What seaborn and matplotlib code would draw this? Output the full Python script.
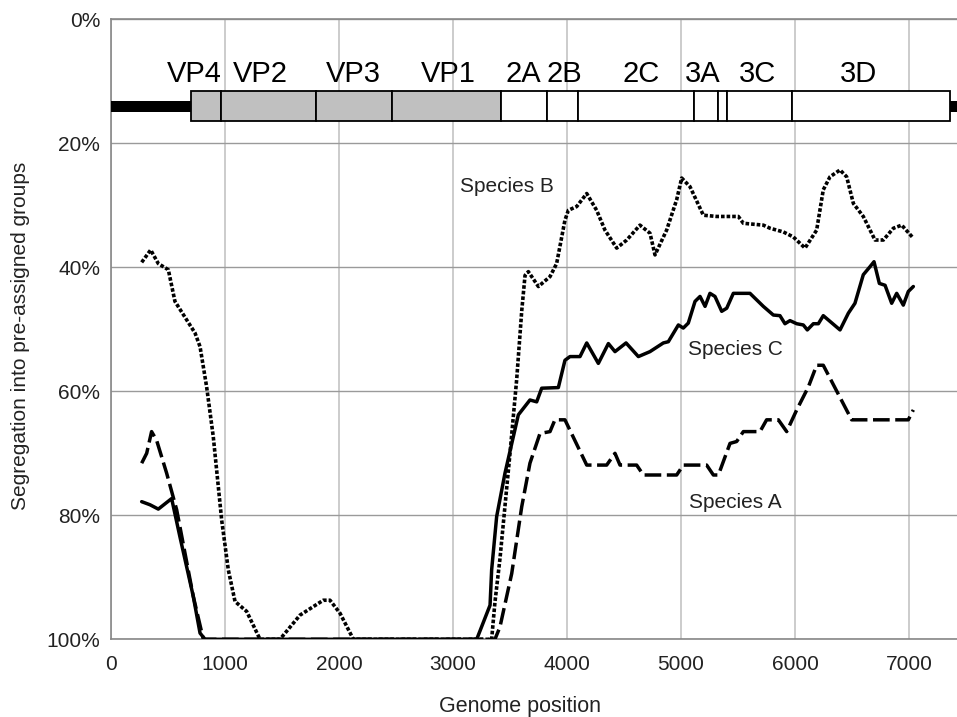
import matplotlib
matplotlib.use("Agg")
import matplotlib.pyplot as plt
from matplotlib import font_manager as fm
from matplotlib.ticker import MultipleLocator, FuncFormatter
import seaborn as sns
import pandas as pd
import numpy as np

# ---------------- data ----------------
B_pos = [269, 348, 415, 503, 561, 737, 781, 839, 897, 971, 1029, 1088, 1190, 1307, 1482,
         1658, 1862, 1921, 2009, 2126, 3339, 3368, 3412, 3500, 3559, 3603, 3632, 3661, 3749,
         3851, 3909, 3982, 4012, 4085, 4173, 4260, 4333, 4436, 4524, 4640, 4728, 4772, 4874,
         4962, 5006, 5079, 5196, 5313, 5503, 5547, 5722, 5781, 5898, 5985, 6088, 6190, 6248,
         6307, 6395, 6453, 6512, 6599, 6702, 6775, 6863, 6936, 7038]
B_val = [39.2, 37.2, 39.4, 40.4, 45.5, 50.6, 52.8, 59.3, 67.3, 80.8, 88.8, 93.9, 95.5, 100, 100,
         96.1, 93.7, 93.7, 95.8, 100, 100, 94.0, 87.0, 70.0, 58.0, 47.0, 41.3, 40.7, 43.1,
         41.5, 39.4, 32.4, 30.8, 30.2, 28.1, 30.8, 34.0, 36.9, 35.6, 33.2, 34.5, 38.0, 34.0,
         29.1, 25.6, 27.0, 31.6, 31.8, 31.8, 32.9, 33.2, 33.7, 34.3, 35.1, 36.9, 34.0, 27.5,
         25.4, 24.3, 25.4, 29.7, 31.8, 35.6, 35.6, 33.7, 33.2, 35.3]

C_pos = [269, 342, 415, 532, 605, 722, 781, 825, 3208, 3325, 3339, 3383, 3456, 3573, 3675,
         3734, 3778, 3924, 3982, 4026, 4114, 4173, 4275, 4363, 4421, 4518, 4626, 4728, 4845,
         4889, 4977, 5020, 5064, 5123, 5167, 5211, 5254, 5298, 5357, 5401, 5459, 5605, 5722,
         5810, 5868, 5912, 5956, 6015, 6073, 6108, 6161, 6205, 6248, 6395, 6468, 6526, 6599,
         6658, 6693, 6740, 6790, 6848, 6892, 6950, 6994, 7038]
C_val = [77.8, 78.3, 79.0, 77.3, 83.5, 93.1, 99.0, 100, 100, 94.5, 88.8, 80.2, 73.2, 63.8, 61.4,
         61.7, 59.5, 59.4, 55.0, 54.4, 54.4, 52.2, 55.5, 52.3, 53.6, 52.2, 54.4, 53.6, 52.2,
         52.0, 49.3, 49.8, 49.0, 45.5, 44.7, 46.3, 44.2, 44.7, 47.1, 46.6, 44.2, 44.2, 46.3,
         47.7, 47.8, 49.1, 48.6, 49.1, 49.3, 50.1, 49.1, 49.1, 47.8, 50.1, 47.4, 45.8, 41.2,
         39.9, 39.1, 42.6, 42.9, 45.8, 44.2, 46.1, 43.9, 43.1]

A_pos = [269, 313, 356, 400, 488, 576, 649, 722, 810, 3368, 3412, 3515, 3603, 3675, 3763,
         3851, 3894, 3982, 4173, 4348, 4421, 4465, 4611, 4670, 4962, 5020, 5225, 5284, 5328,
         5430, 5488, 5547, 5693, 5751, 5854, 5927, 6015, 6117, 6190, 6248, 6497, 6994, 7038]
A_val = [71.6, 70.0, 66.5, 67.9, 73.2, 79.1, 86.1, 93.1, 100, 100, 98.0, 89.4, 78.6, 71.6, 66.8,
         66.5, 64.6, 64.6, 71.9, 71.9, 70.0, 71.9, 71.9, 73.5, 73.5, 71.9, 71.9, 73.5, 73.5,
         68.4, 68.1, 66.5, 66.5, 64.6, 64.6, 66.5, 63.0, 59.3, 55.8, 55.8, 64.6, 64.6, 63.0]

gene_names = ["VP4", "VP2", "VP3", "VP1", "2A", "2B", "2C", "3A", "3B", "3C", "3D"]
gene_start = [700, 968, 1802, 2464, 3418, 3824, 4100, 5115, 5322, 5400, 5970]
gene_end   = [968, 1802, 2464, 3418, 3824, 4100, 5115, 5322, 5400, 5970, 7360]
gene_label_x = [730, 1314, 2125, 2959, 3617, 3975, 4646, 5187, None, 5675, 6561]
structural = ["VP4", "VP2", "VP3", "VP1"]

utr_start = [0, 7360]
utr_end = [700, 7500]

x_ticks = [0, 1000, 2000, 3000, 4000, 5000, 6000, 7000]
y_ticks = [0, 20, 40, 60, 80, 100]

# ---------------- style ----------------
sns.set_style("white")
names = {f.name for f in fm.fontManager.ttflist}
base_font = "Liberation Sans" if "Liberation Sans" in names else "DejaVu Sans"
narrow = "Liberation Sans Narrow" in names
plt.rcParams["font.family"] = [base_font, "DejaVu Sans"]

W, H = 957, 717
fig = plt.figure(figsize=(W / 100, H / 100), dpi=100)
left_px, right_px, top_px, bot_px = 111, 957, 19.3, 639.3
ax = fig.add_axes([left_px / W, 1 - bot_px / H, (right_px - left_px) / W, (bot_px - top_px) / H])

ax.set_xlim(0, (right_px - left_px) / 114.0 * 1000)
ax.set_ylim(100, 0)

spine_c = "#888888"
ax.xaxis.set_major_locator(plt.FixedLocator(x_ticks))
ax.xaxis.set_minor_locator(MultipleLocator(500))
ax.yaxis.set_major_locator(plt.FixedLocator(y_ticks))
ax.yaxis.set_minor_locator(MultipleLocator(10))
ax.yaxis.set_major_formatter(FuncFormatter(lambda v, p: f"{int(v)}%"))
ax.xaxis.grid(True, which="major", color="#c4c4c4", linewidth=1.2)
ax.yaxis.grid(True, which="major", color="#9a9a9a", linewidth=1.0)
ax.set_axisbelow(True)
for s in ["left", "bottom", "top"]:
    ax.spines[s].set_color(spine_c)
    ax.spines[s].set_linewidth(1.2)
ax.spines["right"].set_visible(False)
ax.tick_params(axis="both", which="both", direction="out", color=spine_c, length=4.3, width=1.0,
               labelsize=15, labelcolor="#222222")
ax.tick_params(axis="x", which="major", pad=7, top=False)
ax.tick_params(axis="x", which="minor", top=False)
ax.tick_params(axis="y", which="major", pad=3.6)

# genome map
ax.barh([14.0] * 2, [e - s for s, e in zip(utr_start, utr_end)], left=utr_start,
        height=1.75, color="black", linewidth=0, zorder=3)
colors = ["#c0c0c0" if g in structural else "white" for g in gene_names]
ax.barh([14.0] * len(gene_names), [e - s for s, e in zip(gene_start, gene_end)], left=gene_start,
        height=4.75, color=colors, edgecolor="black", linewidth=1.3, zorder=4)
gfont = dict(family=["Liberation Sans Narrow", base_font], fontsize=23) if narrow else dict(fontsize=21)
for name, lx in zip(gene_names, gene_label_x):
    if lx is None:
        continue
    ax.text(lx, 10.1, name, ha="center", va="baseline", color="black", zorder=5, **gfont)

# curves
df = pd.concat([
    pd.DataFrame({"position": A_pos, "value": A_val, "species": "Species A"}),
    pd.DataFrame({"position": B_pos, "value": B_val, "species": "Species B"}),
    pd.DataFrame({"position": C_pos, "value": C_val, "species": "Species C"}),
])
styles = {
    "Species A": dict(linestyle=(0, (4.8, 1.6)), linewidth=2.5),
    "Species B": dict(linestyle=(0, (1.0, 0.55)), linewidth=2.6),
    "Species C": dict(linestyle="-", linewidth=2.5),
}
for sp, kw in styles.items():
    sub = df[df["species"] == sp]
    sns.lineplot(data=sub, x="position", y="value", ax=ax, color="black", estimator=None,
                 sort=False, legend=False, zorder=6, **kw)

ax.text(3061, 27.8, "Species B", fontsize=15, color="#222222", va="baseline", ha="left")
ax.text(5064, 54.1, "Species C", fontsize=15, color="#222222", va="baseline", ha="left")
ax.text(5072, 78.9, "Species A", fontsize=15, color="#222222", va="baseline", ha="left")

ax.set_xlabel("Genome position", fontsize=15.5, color="#222222")
ax.set_ylabel("Segregation into pre-assigned groups", fontsize=15, color="#222222")
ax.xaxis.set_label_coords((520 - left_px) / (right_px - left_px), -(696 - bot_px) / (bot_px - top_px))
ax.yaxis.set_label_coords(-(111 - 30) / (right_px - left_px), 0.49)

fig.savefig("out.png", dpi=100)
